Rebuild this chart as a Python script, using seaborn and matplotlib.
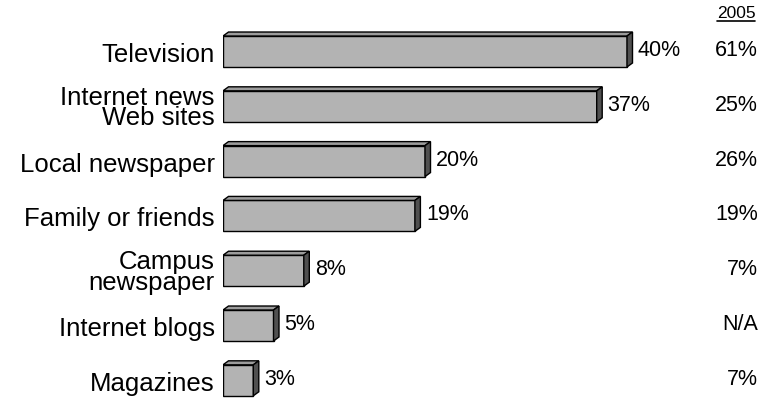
import matplotlib
matplotlib.use("Agg")
import matplotlib.pyplot as plt
from matplotlib.patches import Polygon
from matplotlib.transforms import blended_transform_factory
import seaborn as sns
import pandas as pd

# Main news sources (percent of respondents), current year and 2005
categories = ["Television", "Internet news\nWeb sites", "Local newspaper",
              "Family or friends", "Campus\nnewspaper", "Internet blogs", "Magazines"]
values_now = [40, 37, 20, 19, 8, 5, 3]
labels_2005 = ["61%", "25%", "26%", "19%", "7%", "N/A", "7%"]
year_header = "2005"

sns.set_theme(style="white")
plt.rcParams["font.family"] = ["Liberation Sans", "DejaVu Sans"]

W, H = 766, 402
fig = plt.figure(figsize=(W / 100, H / 100), dpi=100)
fig.patch.set_facecolor("white")

left_px = 223
px_per_pct = 10.1
row_px = 54.8
first_row_px = 52.5

ax = fig.add_axes([left_px / W, 0, (W - left_px) / W, 1])
df = pd.DataFrame({"source": categories, "pct": values_now})
sns.barplot(data=df, x="pct", y="source", orient="h", color="#b3b3b3",
            saturation=1, edgecolor="black", linewidth=1.0, width=0.565, ax=ax)

ax.set_xlim(0, (W - left_px) / px_per_pct)
n = len(categories)
top_val = -first_row_px / row_px
bot_val = (n - 1) + (H - (first_row_px + (n - 1) * row_px)) / row_px
ax.set_ylim(bot_val, top_val)

for s in ax.spines.values():
    s.set_visible(False)
ax.set_xticks([])
ax.set_xlabel("")
ax.set_ylabel("")
ax.tick_params(axis="y", length=0, pad=6, labelsize=18.5, labelcolor="black")
for lab in ax.get_yticklabels():
    lab.set_multialignment("right")
    lab.set_linespacing(0.82)
ax.set_facecolor("none")

# 3D extrusion: top and side faces
dx = 5.5 / px_per_pct
dy = 4 / row_px
for patch, v in zip(ax.patches, values_now):
    x0 = patch.get_x()
    x1 = x0 + patch.get_width()
    yt = patch.get_y()
    yb = yt + patch.get_height()
    top = Polygon([(x0, yt), (x0 + dx, yt - dy), (x1 + dx, yt - dy), (x1, yt)],
                  closed=True, facecolor="#9c9c9c", edgecolor="black", linewidth=1.0)
    side = Polygon([(x1, yt), (x1 + dx, yt - dy), (x1 + dx, yb - dy), (x1, yb)],
                   closed=True, facecolor="#505050", edgecolor="black", linewidth=1.0)
    ax.add_patch(top)
    ax.add_patch(side)
    ax.text(x1 + dx + 5.5 / px_per_pct, (yt + yb) / 2 - dy / 2, f"{v}%",
            ha="left", va="center", fontsize=15.5, color="black")

# 2005 comparison column
col_right = 758 / W
trans = blended_transform_factory(fig.transFigure, ax.transData)
for i, lab in enumerate(labels_2005):
    ax.text(col_right, i - dy / 2, lab, transform=trans, ha="right", va="center",
            fontsize=15.5, color="black")

hdr = fig.text(736 / W, 1 - 13.5 / H, year_header, ha="center", va="center",
               fontsize=12.5, color="black")
fig.canvas.draw()
bb = hdr.get_window_extent(renderer=fig.canvas.get_renderer()).transformed(fig.transFigure.inverted())
fig.add_artist(plt.Line2D([bb.x0, bb.x1], [1 - 21.5 / H, 1 - 21.5 / H],
                          transform=fig.transFigure, color="black", linewidth=1.2))

fig.savefig("out.png", dpi=100, facecolor="white")
